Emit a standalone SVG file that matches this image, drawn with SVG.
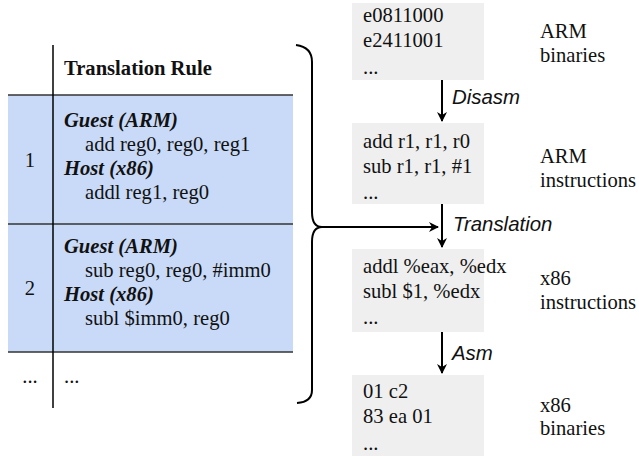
<svg xmlns="http://www.w3.org/2000/svg" width="639" height="456" viewBox="0 0 639 456">
  <style>
    .serif { font-family: "Liberation Serif", "Times New Roman", serif; font-size: 20.6px; fill: #111; }
    .bold { font-weight: bold; }
    .bi { font-weight: bold; font-style: italic; }
    .sans-i { font-family: "Liberation Sans", Arial, sans-serif; font-size: 20.4px; font-style: italic; fill: #111; }
    .mid { text-anchor: middle; }
    .box { fill: #efefef; }
    .row { fill: #c9daf8; }
    .rule { stroke: #333; stroke-width: 1.5; }
    .edge { fill: none; stroke: #000; stroke-width: 2; }
  </style>
  <defs>
    <marker id="arrow" viewBox="0 0 10 10" refX="9" refY="5" markerWidth="5" markerHeight="5" orient="auto" markerUnits="strokeWidth">
      <path d="M0,0 L10,5 L0,10 L3,5 Z" fill="#000"/>
    </marker>
  </defs>

  <!-- rule table -->
  <g id="rule-table">
    <rect class="row" x="8" y="95" width="285" height="257"/>
    <line class="rule" x1="8" y1="95" x2="293" y2="95"/>
    <line class="rule" x1="8" y1="224" x2="293" y2="224"/>
    <line class="rule" x1="8" y1="352" x2="293" y2="352"/>
    <line x1="53" y1="45" x2="53" y2="408" stroke="#000" stroke-width="1.5"/>
    <text class="serif bold" x="64" y="75">Translation Rule</text>
  </g>

  <g id="rule-1">
    <text class="serif mid" x="30" y="167">1</text>
    <text class="serif bi" x="64" y="127">Guest (ARM)</text>
    <text class="serif" x="85" y="151">add reg0, reg0, reg1</text>
    <text class="serif bi" x="64" y="175">Host (x86)</text>
    <text class="serif" x="85" y="199">addl reg1, reg0</text>
  </g>

  <g id="rule-2">
    <text class="serif mid" x="30" y="295">2</text>
    <text class="serif bi" x="64" y="253">Guest (ARM)</text>
    <text class="serif" x="85" y="277">sub reg0, reg0, #imm0</text>
    <text class="serif bi" x="64" y="301">Host (x86)</text>
    <text class="serif" x="85" y="325">subl $imm0, reg0</text>
  </g>

  <g id="rule-more">
    <text class="serif mid" x="30" y="383">...</text>
    <text class="serif" x="64" y="383">...</text>
  </g>

  <!-- pipeline stages -->
  <g id="arm-binaries">
    <rect class="box" x="352" y="3" width="132" height="77"/>
    <text class="serif" x="363" y="22">e0811000</text>
    <text class="serif" x="363" y="47">e2411001</text>
    <text class="serif" x="363" y="74">...</text>
    <text class="serif" x="540" y="38">ARM</text>
    <text class="serif" x="540" y="62">binaries</text>
  </g>

  <g id="arm-instructions">
    <rect class="box" x="352" y="123" width="132" height="81"/>
    <text class="serif" x="363" y="148">add r1, r1, r0</text>
    <text class="serif" x="363" y="173">sub r1, r1, #1</text>
    <text class="serif" x="363" y="199">...</text>
    <text class="serif" x="540" y="163">ARM</text>
    <text class="serif" x="540" y="187">instructions</text>
  </g>

  <g id="x86-instructions">
    <rect class="box" x="352" y="249" width="132" height="83"/>
    <text class="serif" x="363" y="273">addl %eax, %edx</text>
    <text class="serif" x="363" y="298">subl $1, %edx</text>
    <text class="serif" x="363" y="324">...</text>
    <text class="serif" x="540" y="285">x86</text>
    <text class="serif" x="540" y="309">instructions</text>
  </g>

  <g id="x86-binaries">
    <rect class="box" x="352" y="375" width="132" height="81"/>
    <text class="serif" x="363" y="398">01 c2</text>
    <text class="serif" x="363" y="423">83 ea 01</text>
    <text class="serif" x="363" y="450">...</text>
    <text class="serif" x="540" y="412">x86</text>
    <text class="serif" x="540" y="435">binaries</text>
  </g>

  <!-- connectors -->
  <g id="connectors">
    <path class="edge" d="M296,45 Q312,47 312,62 L312,212 Q312,227 322,227 Q312,227 312,242 L312,390 Q312,402 297,403"/>
    <path class="edge" d="M322,227 L438,227" marker-end="url(#arrow)"/>
    <path class="edge" d="M442,80 L442,121" marker-end="url(#arrow)"/>
    <path class="edge" d="M442,204 L442,247" marker-end="url(#arrow)"/>
    <path class="edge" d="M442,332 L442,373" marker-end="url(#arrow)"/>
    <text class="sans-i" x="452" y="104">Disasm</text>
    <text class="sans-i" x="453" y="231">Translation</text>
    <text class="sans-i" x="452" y="360">Asm</text>
  </g>
</svg>
